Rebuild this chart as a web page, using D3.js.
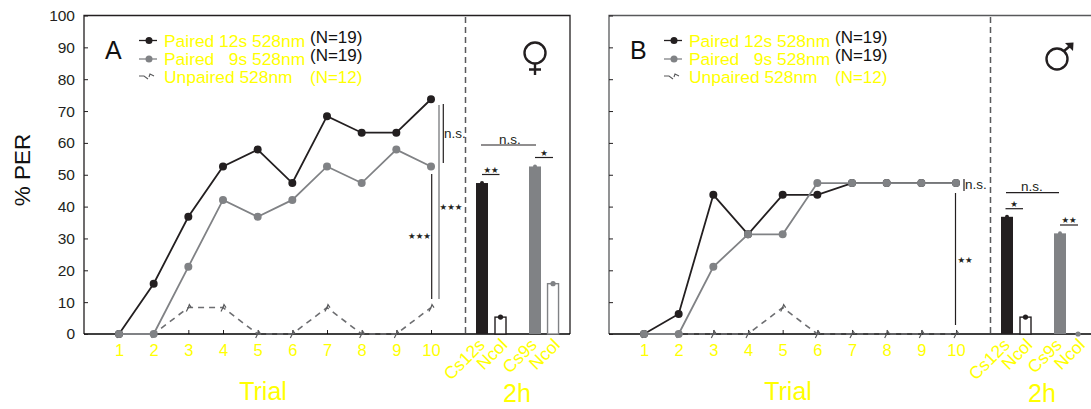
<!DOCTYPE html>
<html><head><meta charset="utf-8">
<script src="https://cdn.jsdelivr.net/npm/d3@7/dist/d3.min.js"></script>
<style>html,body{margin:0;padding:0;background:#fff}svg{display:block}text{font-family:"Liberation Sans",Arial,sans-serif}</style>
</head><body><svg id="c" width="1091" height="409"></svg>
<script>
const trials = [1,2,3,4,5,6,7,8,9,10];
const yTicks = [0,10,20,30,40,50,60,70,80,90,100];
const barLabels = ["Cs12s","Ncol","Cs9s","Ncol"];
const legendLabels = ["Paired 12s 528nm","Paired   9s 528nm","Unpaired 528nm"];
const legendNs = ["(N=19)","(N=19)","(N=12)"];

const a12 = [0,15.8,36.8,52.6,57.9,47.4,68.4,63.2,63.2,73.7];
const a9  = [0,0,21.1,42.1,36.8,42.1,52.6,47.4,57.9,52.6];
const aUn = [0,0,8.3,8.3,0,0,8.3,0,0,8.3];
const aBars = [47.4,5.3,52.6,15.8];

const b12 = [0,6.3,43.7,31.3,43.7,43.7,47.4,47.4,47.4,47.4];
const b9  = [0,0,21.1,31.3,31.3,47.4,47.4,47.4,47.4,47.4];
const bUn = [0,0,0,0,8.3,0,0,0,0,0];
const bBars = [36.8,5.3,31.6,0];

const BLACK="#231f20", GREY="#808285", DASH="#58595b", UNP="#6d6e71", YEL="#ffff00";
const svg=d3.select("#c");
const y=d3.scaleLinear().domain([0,100]).range([334,15.5]);

function panel(o){
  const g=svg.append("g").attr("transform",`translate(${o.dx},0)`);
  const x=d3.scaleLinear().domain([1,10]).range([119,431]);
  const bx=d3.scaleLinear().domain([0,1]).range([482,500.5]);
  const line=d3.line().x((d,i)=>x(trials[i])).y(d=>y(d));

  // frame
  g.append("path").attr("d",`M84,334V15.5H${o.right}${o.closed?"V334":""}`).attr("fill","none").attr("stroke",o.frame).attr("stroke-width",1.3);
  const ax=d3.axisBottom(x).tickValues(trials).tickSize(-4).tickPadding(10);
  const xg=g.append("g").attr("transform","translate(0,334)").call(ax);
  xg.select(".domain").remove();
  xg.append("line").attr("x1",84).attr("x2",o.right).attr("stroke","#000").attr("stroke-width",1.4);
  xg.selectAll(".tick line").attr("stroke","#231f20");
  xg.selectAll("text").attr("fill",YEL).style("font-size","16.5px").attr("font-family",null);
  const ay=d3.axisLeft(y).tickValues(yTicks).tickSize(-4).tickPadding(9);
  const yg=g.append("g").attr("transform","translate(84,0)").call(ay);
  yg.select(".domain").remove();
  yg.selectAll(".tick line").attr("stroke","#231f20");
  yg.selectAll("text").attr("fill",o.labels?"#231f20":"none").style("font-size","15.5px").attr("font-family",null);

  // divider
  g.append("line").attr("x1",465.5).attr("x2",465.5).attr("y1",17).attr("y2",334).attr("stroke",DASH).attr("stroke-width",1.5).attr("stroke-dasharray","6 4");

  // series
  g.append("path").attr("d",line(o.un)).attr("fill","none").attr("stroke",UNP).attr("stroke-width",1.6).attr("stroke-dasharray","6 5");
  g.selectAll(".un").data(o.un).join("path").attr("d",(d,i)=>{const X=x(trials[i]),Y=y(d);return `M${X-2},${Y+4}L${X},${Y}L${X+1},${Y-3}L${X+3},${Y}`;}).attr("fill","none").attr("stroke",DASH).attr("stroke-width",1.2);
  [[o.s12,BLACK],[o.s9,GREY]].forEach(([s,c])=>{
    g.append("path").attr("d",line(s)).attr("fill","none").attr("stroke",c).attr("stroke-width",1.8);
    g.selectAll(null).data(s).join("circle").attr("cx",(d,i)=>x(trials[i])).attr("cy",d=>y(d)).attr("r",4).attr("fill",c);
  });

  // bars
  const cols=[BLACK,BLACK,GREY,GREY];
  const slots=[0,1,2.865,3.84];
  o.bars.forEach((v,i)=>{
    const cx=bx(slots[i]), c=cols[i];
    if(v>0){
      if(i%2===0) g.append("rect").attr("x",cx-6).attr("y",y(v)).attr("width",12).attr("height",y(0)-y(v)).attr("fill",c);
      else g.append("rect").attr("x",cx-5.5).attr("y",y(v)).attr("width",11).attr("height",y(0)-y(v)).attr("fill","#fff").attr("stroke",c).attr("stroke-width",1.4);
    }
    g.append("circle").attr("cx",cx).attr("cy",y(v)).attr("r",i%2?2.6:2).attr("fill",c);
    g.append("text").text(barLabels[i]).attr("text-anchor","end").attr("fill",YEL).style("font-size","17.5px")
      .attr("transform",`translate(${cx+o.lblDx[i]},${346}) rotate(-45)`);
  });

  // legend
  const lx=139, ly=[40.5,59,77];
  legendLabels.forEach((t,i)=>{
    g.append("text").text(t).attr("x",164).attr("y",ly[i]+6).attr("fill",YEL).style("font-size","17.4px").style("white-space","pre");
    g.append("text").text(legendNs[i]).attr("x",310).attr("y",ly[i]+(i<2?2:6)).attr("fill",i<2?"#111":YEL).style("font-size","17px");
    if(i<2){
      const c=i?GREY:BLACK;
      g.append("line").attr("x1",lx).attr("x2",lx+18).attr("y1",ly[i]).attr("y2",ly[i]).attr("stroke",c).attr("stroke-width",1.3);
      g.append("circle").attr("cx",lx+10).attr("cy",ly[i]).attr("r",3.5).attr("fill",c);
    } else g.append("path").attr("d",`M${lx},${ly[i]-1}h5l4,3 M${lx+10},${ly[i]}l1,-3l4,2`).attr("fill","none").attr("stroke",DASH).attr("stroke-width",1.1);
  });
  g.append("text").text(o.letter).attr("x",105).attr("y",59).attr("fill","#111").style("font-size","25px");

  // axis titles
  g.append("text").text("Trial").attr("x",263).attr("y",400).attr("text-anchor","middle").attr("fill",YEL).style("font-size","25px");
  g.append("text").text("2h").attr("x",517).attr("y",402).attr("text-anchor","middle").attr("fill",YEL).style("font-size","25px");
  if(o.labels) g.append("text").text("% PER").attr("transform","translate(30,170) rotate(-90)").attr("text-anchor","middle").attr("fill","#111").style("font-size","22.5px");

  // significance marks
  o.rules.forEach(r=>g.append("line").attr("x1",r[0]).attr("x2",r[2]).attr("y1",r[1]).attr("y2",r[3]).attr("stroke",r[4]||"#231f20").attr("stroke-width",r[5]||1.2));
  o.notes.forEach(n=>g.append("text").text(n[0]).attr("x",n[1]).attr("y",n[2]).attr("text-anchor","middle").attr("fill","#231f20")
    .style("font-family",n[0].includes("★")?"'DejaVu Sans'":null).style("font-size",n[0].includes("★")?"8.5px":"13.5px"));

  // sex symbol
  const sx=o.symX, sy=o.symY;
  if(o.letter==="A"){
    g.append("circle").attr("cx",sx).attr("cy",sy).attr("r",10.5).attr("fill","none").attr("stroke","#231f20").attr("stroke-width",2.4);
    g.append("path").attr("d",`M${sx},${sy+11}V${sy+22}M${sx-6},${sy+16.5}H${sx+6}`).attr("fill","none").attr("stroke","#231f20").attr("stroke-width",2.4);
  } else {
    g.append("circle").attr("cx",sx).attr("cy",sy).attr("r",10.5).attr("fill","none").attr("stroke","#231f20").attr("stroke-width",2.4);
    g.append("path").attr("d",`M${sx+7},${sy-8}L${sx+13},${sy-13}`).attr("fill","none").attr("stroke","#231f20").attr("stroke-width",2.4);
    g.append("path").attr("d",`M${sx+8},${sy-16}L${sx+16.5},${sy-16.5}L${sx+16},${sy-8}Z`).attr("fill","#231f20");
  }
}

panel({dx:0,letter:"A",labels:true,right:570,closed:true,frame:"#231f20",s12:a12,s9:a9,un:aUn,bars:aBars,symX:535,symY:53,lblDx:[4,8,3,8],
  rules:[[431.7,174,431.7,299],[439,105,439,299,GREY,1.4],[443.3,104,443.3,163],[481,145,536,145],[482,174.5,499.5,174.5],[535,157.5,553,157.5]],
  notes:[["n.s.",455,138],["★★★",419.5,238.5],["★★★",451,209.5],["n.s.",510,144],["★★",491,173],["★",544,156]]});
panel({dx:525,letter:"B",labels:false,right:566,closed:false,frame:"#58595b",s12:b12,s9:b9,un:bUn,bars:bBars,symX:532,symY:59,lblDx:[4,8,3,8],
  rules:[[439,179,439,191],[430.5,193,430.5,325],[481,192.7,534,192.7],[480.5,208.7,498,208.7],[535,225,553,225]],
  notes:[["n.s.",451,189],["★★",440,263],["n.s.",507,191],["★",489,207],["★★",544,223]]});
</script></body></html>
